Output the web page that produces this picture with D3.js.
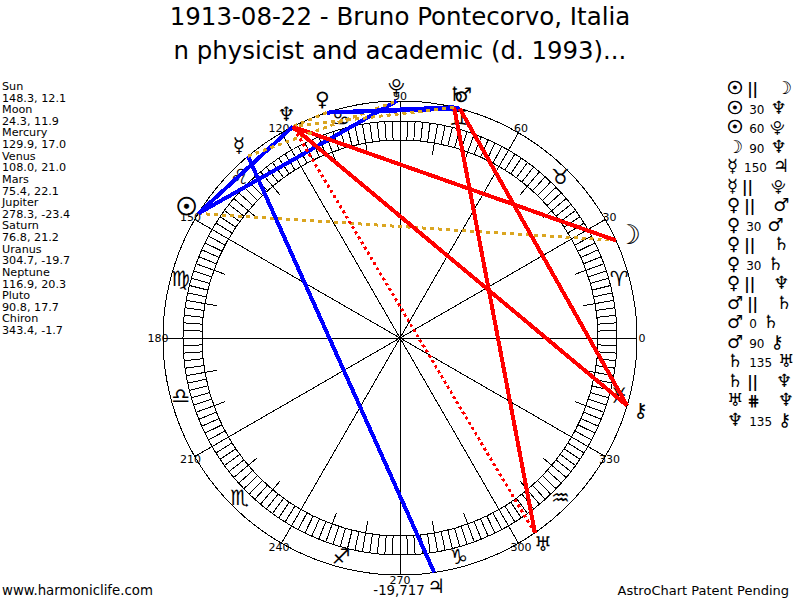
<!DOCTYPE html>
<html lang="en">
<head>
  <meta charset="UTF-8">
  <title>1913-08-22 - Bruno Pontecorvo</title>
  <style>
    html, body { margin: 0; padding: 0; background: #fff; }
    text { font-family: "DejaVu Sans", sans-serif; fill: #000; }
  </style>
</head>
<body>
  <script src="https://cdn.jsdelivr.net/npm/d3@7/dist/d3.min.js"></script>
  <script>
const width = 800
const height = 600

// planets: name, glyph, longitude, declination
const planetNames = ['Sun', 'Moon', 'Mercury', 'Venus', 'Mars', 'Jupiter', 'Saturn', 'Uranus', 'Neptune', 'Pluto', 'Chiron']
const planetGlyphs = ['☉', '☽', '☿', '♀', '♂', '♃', '♄', '♅', '♆', '⯓', '⚷']
const longitudes = [148.3, 24.3, 129.9, 108.0, 75.4, 278.3, 76.8, 304.7, 116.9, 90.8, 343.4]
const declinations = ['12.1', '11.9', '17.0', '21.0', '22.1', '-23.4', '21.2', '-19.7', '20.3', '17.7', '-1.7']
const lonLabels = ['148.3', '24.3', '129.9', '108.0', '75.4', '278.3', '76.8', '304.7', '116.9', '90.8', '343.4']

// aspects: first planet, aspect, second planet
const aspectFrom = ['Sun', 'Sun', 'Sun', 'Moon', 'Mercury', 'Mercury', 'Venus', 'Venus', 'Venus', 'Venus', 'Venus', 'Mars', 'Mars', 'Mars', 'Saturn', 'Saturn', 'Uranus', 'Neptune']
const aspectKind = ['||', '30', '60', '90', '150', '||', '||', '30', '||', '30', '||', '||', '0', '90', '135', '||', '#', '135']
const aspectTo = ['Moon', 'Neptune', 'Pluto', 'Neptune', 'Jupiter', 'Pluto', 'Mars', 'Mars', 'Saturn', 'Saturn', 'Neptune', 'Saturn', 'Saturn', 'Chiron', 'Uranus', 'Neptune', 'Neptune', 'Chiron']

const signGlyphs = ['♈', '♉', '♊', '♋', '♌', '♍', '♎', '♏', '♐', '♑', '♒', '♓']
const degreeLabels = d3.range(0, 360, 30)

const cx = 400, cy = 338
const rOuter = 237, rBandOut = 217, rBandIn = 198, rTick = 186

// degrees to radial angle, 0 on the right and going counter clockwise
const angle = d3.scaleLinear().domain([0, 360]).range([Math.PI / 2, -1.5 * Math.PI])
const pt = (deg, r) => d3.pointRadial(angle(deg), r)

const svg = d3.select('body').append('svg')
  .attr('width', width)
  .attr('height', height)
  .style('display', 'block')

// titles
svg.append('text').attr('x', 400).attr('y', 25).attr('text-anchor', 'middle').attr('font-size', 24.5)
  .text('1913-08-22 - Bruno Pontecorvo, Italia')
svg.append('text').attr('x', 400).attr('y', 59).attr('text-anchor', 'middle').attr('font-size', 24.4)
  .text('n physicist and academic (d. 1993)...')

const g = svg.append('g').attr('transform', `translate(${cx},${cy})`)
const wheel = g.append('g').attr('fill', 'none').attr('stroke', '#000').attr('shape-rendering', 'crispEdges')

wheel.selectAll('circle').data([rOuter, rBandOut, rBandIn]).enter()
  .append('circle').attr('r', d => d)

const spoke = (deg, r0, r1) => {
  const a = pt(deg, r0), b = pt(deg, r1)
  wheel.append('line').attr('x1', a[0]).attr('y1', a[1]).attr('x2', b[0]).attr('y2', b[1])
}
d3.range(0, 360, 2).forEach(d => spoke(d, rBandIn, rBandOut))
d3.range(0, 360, 10).forEach(d => spoke(d, rTick, rBandOut))
degreeLabels.forEach(d => spoke(d, 0, rOuter))

// degree numbers round the wheel
g.selectAll('.deg').data(degreeLabels).enter().append('text')
  .attr('class', 'deg')
  .attr('font-size', 11)
  .attr('text-anchor', 'middle')
  .attr('dy', '0.35em')
  .attr('x', d => pt(d, 242)[0])
  .attr('y', d => pt(d, 242)[1])
  .text(d => d)

// sign glyphs in the middle of each sign
g.selectAll('.sign').data(signGlyphs).enter().append('text')
  .attr('class', 'sign')
  .attr('font-size', 21)
  .attr('text-anchor', 'middle')
  .attr('dy', '0.35em')
  .attr('x', (d, i) => pt(i * 30 + 15, 227)[0])
  .attr('y', (d, i) => pt(i * 30 + 15, 227)[1] - 1)
  .text(d => d)

// aspect lines
const lonOf = name => longitudes[planetNames.indexOf(name)]
const glyphOf = name => planetGlyphs[planetNames.indexOf(name)]
const aspects = aspectKind.map((k, i) => ({ kind: k, from: aspectFrom[i], to: aspectTo[i] }))
const aspectColor = k => k === '||' ? '#daa520' : (['#', '90', '135'].includes(k) ? '#ff0000' : '#0000ff')
const line = d3.line()

g.selectAll('.aspect').data(aspects).enter().append('path')
  .attr('class', 'aspect')
  .attr('fill', 'none')
  .attr('shape-rendering', 'crispEdges')
  .attr('stroke', d => aspectColor(d.kind))
  .attr('stroke-width', d => (d.kind === '||' || d.kind === '#') ? 3 : 4)
  .attr('stroke-dasharray', d => d.kind === '||' ? '4,4' : d.kind === '#' ? '3,3' : null)
  .attr('d', d => line([pt(lonOf(d.from), rOuter), pt(lonOf(d.to), rOuter)]))

// planet glyphs outside the wheel
const glyphSize = d => d === '☉' ? 24 : d === '☽' ? 27 : d === '⯓' ? 17 : 20
g.selectAll('.planet').data(planetGlyphs).enter().append('text')
  .attr('class', 'planet')
  .attr('font-size', glyphSize)
  .attr('stroke', d => d === '☉' ? '#000' : null)
  .attr('stroke-width', 0.8)
  .attr('text-anchor', 'middle')
  .attr('dy', '0.35em')
  .attr('x', (d, i) => pt(longitudes[i], 251)[0])
  .attr('y', (d, i) => pt(longitudes[i], 251)[1])
  .text(d => d)

// position list on the left
const list = svg.append('g').attr('font-size', 11.2)
planetNames.forEach((name, i) => {
  list.append('text').attr('x', 2).attr('y', 90 + i * 2 * 11.62).text(name)
  list.append('text').attr('x', 2).attr('y', 90 + (i * 2 + 1) * 11.62).text(`${lonLabels[i]}, ${declinations[i]}`)
})

// aspect list on the right
const rows = svg.append('g')
const glyphSpan = (row, name, dx) => row.append('tspan')
  .attr('dx', dx)
  .attr('font-size', name === 'Pluto' ? 15 : 18)
  .attr('stroke', name === 'Sun' ? '#000' : null)
  .attr('stroke-width', name === 'Sun' ? 0.7 : null)
  .text(glyphOf(name))
aspects.forEach((d, i) => {
  const parallel = d.kind === '||' || d.kind === '#'
  const row = rows.append('text').attr('x', 727).attr('y', 94 + i * 19.5)
  glyphSpan(row, d.from, 0)
  row.append('tspan').attr('dx', parallel ? 4 : 6).attr('font-size', parallel ? 15 : 12)
    .attr('font-weight', parallel ? 'bold' : null)
    .text(d.kind === '#' ? '⋕' : d.kind)
  glyphSpan(row, d.to, parallel ? 18 : 6)
})

// footer
svg.append('text').attr('x', 2).attr('y', 595).attr('font-size', 13.3).text('www.harmoniclife.com')
svg.append('text').attr('x', 399).attr('y', 595).attr('text-anchor', 'middle').attr('font-size', 13.3).text('-19,717')
svg.append('text').attr('x', 789).attr('y', 595).attr('text-anchor', 'end').attr('font-size', 13).text('AstroChart Patent Pending')
  </script>
</body>
</html>
